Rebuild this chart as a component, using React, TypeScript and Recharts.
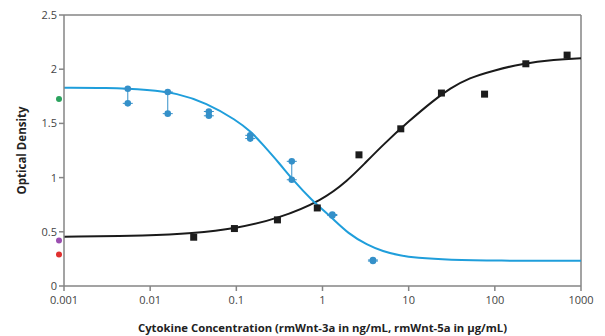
import React from 'react';
import {
  ComposedChart,
  Line,
  Scatter,
  XAxis,
  YAxis,
  ReferenceLine,
  ErrorBar,
  Label,
} from 'recharts';

const xTicks = [0.001, 0.01, 0.1, 1, 10, 100, 1000];
const yTicks = [0, 0.5, 1, 1.5, 2, 2.5];

// rmWnt-3a (black squares + fit)
const wnt3aConc = [0.032, 0.095, 0.3, 0.87, 2.65, 8.1, 24, 76, 229, 690];
const wnt3aOD = [0.45, 0.53, 0.61, 0.72, 1.21, 1.45, 1.78, 1.77, 2.05, 2.13];
const wnt3aFitConc = [0.001, 0.01, 0.03, 0.1, 0.3, 1, 2, 3, 5, 10, 20, 30, 50, 100, 200, 500, 1000];
const wnt3aFitOD = [0.455, 0.465, 0.485, 0.53, 0.62, 0.79, 0.98, 1.12, 1.3, 1.52, 1.72, 1.82, 1.92, 1.99, 2.05, 2.09, 2.1];

// rmWnt-5a (blue duplicates + fit)
const wnt5aConc = [0.0055, 0.016, 0.048, 0.145, 0.44, 1.3, 3.85];
const wnt5aHigh = [1.82, 1.79, 1.61, 1.39, 1.15, 0.66, 0.24];
const wnt5aLow = [1.685, 1.59, 1.57, 1.36, 0.98, 0.65, 0.23];
const wnt5aFitConc = [0.001, 0.003, 0.01, 0.02, 0.045, 0.1, 0.15, 0.2, 0.325, 0.44, 0.75, 1.25, 2, 3.3, 5, 8, 12, 30, 100, 1000];
const wnt5aFitOD = [1.83, 1.83, 1.81, 1.78, 1.69, 1.53, 1.42, 1.31, 1.12, 0.99, 0.79, 0.64, 0.48, 0.38, 0.32, 0.28, 0.26, 0.24, 0.233, 0.233];

// untreated controls, drawn just left of the axis
const controlOD = [1.725, 0.42, 0.29];
const controlColors = ['#2ba35e', '#9b4fb0', '#e0302f'];

const BLUE_LINE = '#1f9edb';
const BLUE_DOT = '#3490c9';
const AXIS = '#858585';

const zip = (xs: number[], ys: number[]) => xs.map((x, i) => ({ x, y: ys[i] }));

const App: React.FC = () => {
  const wnt3aPts = zip(wnt3aConc, wnt3aOD);
  const wnt3aFit = zip(wnt3aFitConc, wnt3aFitOD);
  const wnt5aFit = zip(wnt5aFitConc, wnt5aFitOD);
  const wnt5aHi = zip(wnt5aConc, wnt5aHigh);
  const wnt5aLo = zip(wnt5aConc, wnt5aLow);
  const wnt5aBars = wnt5aConc.map((x, i) => ({
    x,
    y: (wnt5aHigh[i] + wnt5aLow[i]) / 2,
    err: (wnt5aHigh[i] - wnt5aLow[i]) / 2,
  }));

  const tickStyle = { fontSize: 11, fill: '#444', fontFamily: '"Open Sans", sans-serif' };

  const square = (p: any) => (
    <rect x={p.cx - 3.5} y={p.cy - 3.5} width={7} height={7} fill="#1c1c1c" />
  );
  const blueDot = (p: any) => <circle cx={p.cx} cy={p.cy} r={3.3} fill={BLUE_DOT} />;

  return (
    <div style={{ position: 'absolute', left: 0, top: 0, width: 605, height: 336, background: '#fff' }}>
      <ComposedChart width={605} height={336} margin={{ top: 15, right: 24, bottom: 0, left: 0 }}>
        <XAxis
          dataKey="x"
          type="number"
          scale="log"
          domain={[0.001, 1000]}
          ticks={xTicks}
          tickFormatter={(v: number) => String(v)}
          tick={tickStyle}
          tickSize={5}
          tickMargin={5}
          stroke={AXIS}
          strokeWidth={1.5}
          height={50}
        >
          <Label
            value="Cytokine Concentration (rmWnt-3a in ng/mL, rmWnt-5a in μg/mL)"
            position="insideBottom"
            offset={4}
            style={{ fontSize: 11.3, fontWeight: 700, fill: '#222', fontFamily: '"Open Sans", sans-serif' }}
          />
        </XAxis>
        <YAxis
          type="number"
          domain={[0, 2.5]}
          ticks={yTicks}
          tickFormatter={(v: number) => String(v)}
          tick={tickStyle}
          tickSize={5}
          stroke={AXIS}
          strokeWidth={1.5}
          width={64}
        >
          <Label
            value="Optical Density"
            angle={-90}
            position="insideLeft"
            offset={22}
            style={{ textAnchor: 'middle', fontSize: 11.5, fontWeight: 700, fill: '#222', fontFamily: '"Open Sans", sans-serif' }}
          />
        </YAxis>
        <ReferenceLine y={2.5} stroke={AXIS} strokeWidth={1.5} />
        <ReferenceLine x={1000} stroke={AXIS} strokeWidth={1.5} />

        <Line data={wnt3aFit} dataKey="y" type="basis" stroke="#1a1a1a" strokeWidth={2} dot={false} activeDot={false} isAnimationActive={false} />
        <Line data={wnt5aFit} dataKey="y" type="basis" stroke={BLUE_LINE} strokeWidth={2} dot={false} activeDot={false} isAnimationActive={false} />

        <Scatter data={wnt5aBars} dataKey="y" shape={() => <g />} isAnimationActive={false}>
          <ErrorBar dataKey="err" direction="y" width={5} stroke={BLUE_DOT} strokeWidth={1} />
        </Scatter>
        <Scatter data={wnt5aHi} dataKey="y" shape={blueDot} isAnimationActive={false} />
        <Scatter data={wnt5aLo} dataKey="y" shape={blueDot} isAnimationActive={false} />
        <Scatter data={wnt3aPts} dataKey="y" shape={square} isAnimationActive={false} />

        {controlOD.map((od, i) => (
          <Scatter
            key={i}
            data={[{ x: 0.001, y: od }]}
            dataKey="y"
            isAnimationActive={false}
            shape={(p: any) => <circle cx={p.cx - 5} cy={p.cy} r={3} fill={controlColors[i]} />}
          />
        ))}
      </ComposedChart>
    </div>
  );
};

export default App;
